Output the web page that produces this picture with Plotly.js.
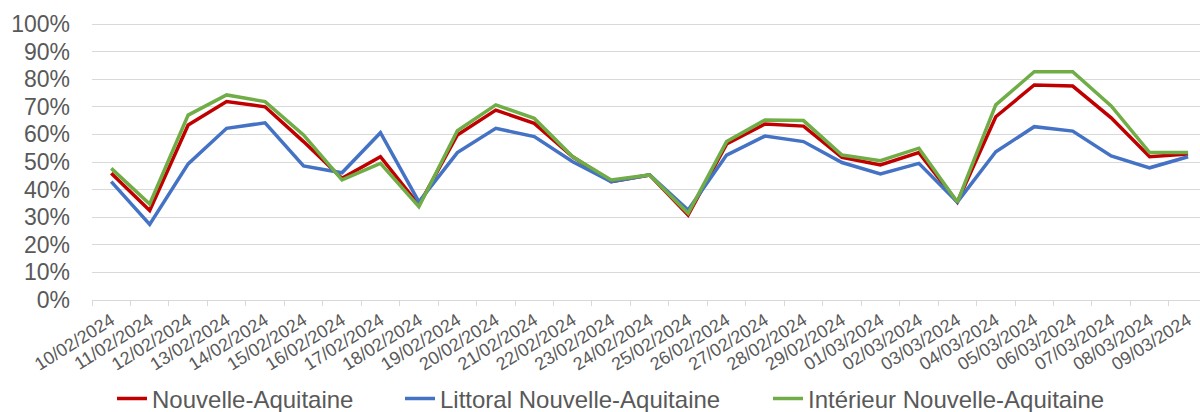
<!DOCTYPE html>
<html>
<head>
<meta charset="utf-8">
<script src="https://cdn.plot.ly/plotly-3.0.1.min.js"></script>
<style>html,body{margin:0;padding:0;background:#fff;}#chart{width:1200px;height:412px;}</style>
</head>
<body>
<div id="chart"></div>
<script>
const dates = ["10/02/2024","11/02/2024","12/02/2024","13/02/2024","14/02/2024","15/02/2024","16/02/2024","17/02/2024","18/02/2024","19/02/2024","20/02/2024","21/02/2024","22/02/2024","23/02/2024","24/02/2024","25/02/2024","26/02/2024","27/02/2024","28/02/2024","29/02/2024","01/03/2024","02/03/2024","03/03/2024","04/03/2024","05/03/2024","06/03/2024","07/03/2024","08/03/2024","09/03/2024"];
const nouvelleAquitaine = [0.459,0.324,0.634,0.719,0.700,0.574,0.441,0.519,0.344,0.598,0.688,0.640,0.519,0.429,0.453,0.308,0.565,0.638,0.630,0.517,0.489,0.534,0.355,0.664,0.779,0.775,0.660,0.519,0.529];
const littoral = [0.429,0.274,0.493,0.622,0.642,0.486,0.461,0.606,0.356,0.534,0.622,0.592,0.501,0.429,0.453,0.326,0.525,0.594,0.574,0.498,0.457,0.495,0.355,0.537,0.628,0.612,0.522,0.479,0.519];
const interieur = [0.477,0.348,0.670,0.743,0.719,0.598,0.435,0.495,0.338,0.613,0.707,0.658,0.519,0.435,0.453,0.314,0.574,0.652,0.650,0.525,0.505,0.550,0.355,0.707,0.827,0.827,0.703,0.534,0.534];
const seriesNames = ["Nouvelle-Aquitaine","Littoral Nouvelle-Aquitaine","Intérieur Nouvelle-Aquitaine"];
const colors = ["#C00000","#4472C4","#70AD47"];

const FONT = "Liberation Sans, Arial, sans-serif";
const vals = [nouvelleAquitaine, littoral, interieur];
const legIds = ["legend","legend2","legend3"];
const traces = vals.map((v,i)=>({
  type:"scatter", mode:"lines", x:dates, y:v, name:seriesNames[i],
  line:{color:colors[i], width:3.5}, legend:legIds[i], hoverinfo:"x+y+name"
}));

function leg(x){
  return {orientation:"h", xref:"container", yref:"container", x:x, y:(412-399)/412,
    xanchor:"left", yanchor:"middle", bgcolor:"rgba(0,0,0,0)",
    font:{family:FONT, size:24, color:"#595959"}};
}

const layout = {
  width:1200, height:412,
  margin:{l:92, r:0, t:18, b:112},
  paper_bgcolor:"#fff", plot_bgcolor:"#fff",
  font:{family:FONT, color:"#595959"},
  showlegend:true,
  legend:leg(112/1200), legend2:leg(400/1200), legend3:leg(768/1200),
  xaxis:{type:"category", tickmode:"array", tickvals:dates, ticktext:dates,
    range:[-0.5, 28.31], tickangle:-32, tickfont:{family:FONT, size:18, color:"#595959"},
    showgrid:false, showline:true, linecolor:"#D9D9D9", linewidth:1,
    ticks:"outside", tickson:"boundaries", ticklen:5, tickcolor:"#D9D9D9",
    ticklabelstandoff:2, automargin:false},
  yaxis:{range:[0, 282/276], tickvals:[0,0.1,0.2,0.3,0.4,0.5,0.6,0.7,0.8,0.9,1.0], tickformat:".0%",
    tickfont:{family:FONT, size:23, color:"#595959"}, showgrid:true, gridcolor:"#D9D9D9", gridwidth:1,
    zeroline:false, showline:false, ticks:"", ticklabelstandoff:21, automargin:false}
};
Plotly.newPlot("chart", traces, layout, {displayModeBar:false, staticPlot:true});
</script>
</body>
</html>
